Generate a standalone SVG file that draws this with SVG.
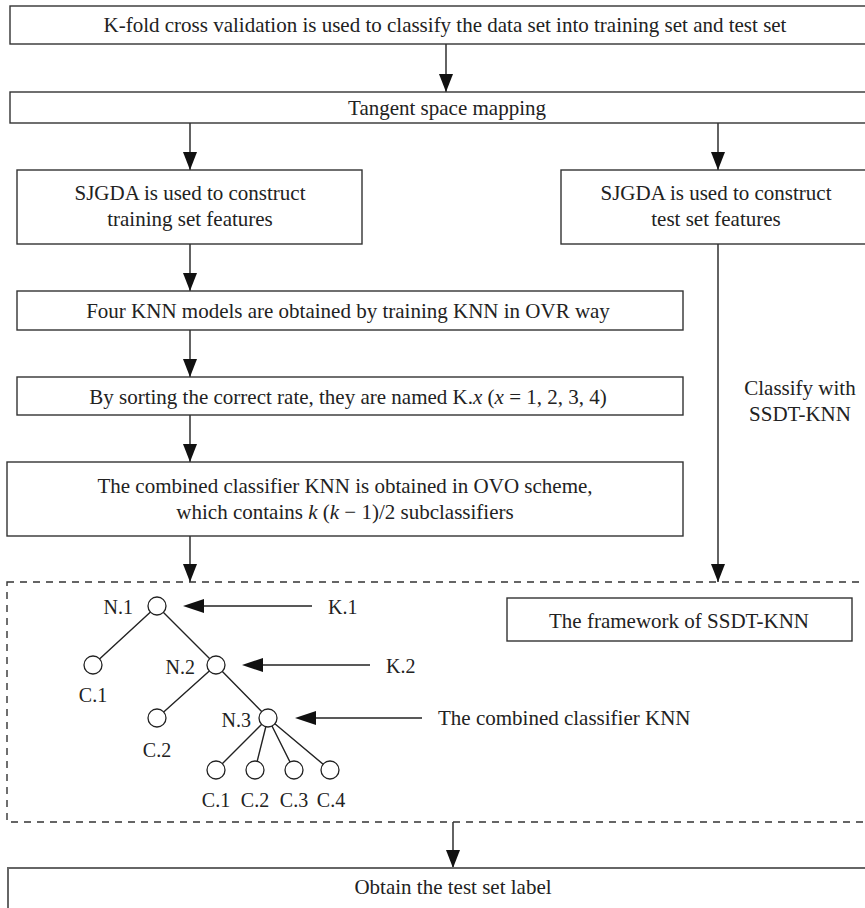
<svg xmlns="http://www.w3.org/2000/svg" width="865" height="908" viewBox="0 0 865 908">
<defs>
<style>
text{font-family:"Liberation Serif","Times New Roman",serif;font-size:21px;fill:#222;}
.t{font-size:20px}
.c{text-anchor:middle}
.r{text-anchor:end}
.box{fill:#fff;stroke:#333;stroke-width:1.4}
.ln{stroke:#222;stroke-width:1.4;fill:none}
.dash{fill:none;stroke:#333;stroke-width:1.4;stroke-dasharray:7 6}
.nd{fill:#fff;stroke:#222;stroke-width:1.3}
.ah{fill:#111}
</style>
</defs>
<g id="connectors">
<path class="ln" d="M446,44 V92"/>
<path class="ah" d="M439,74 L453,74 L446,92 Z"/>
<path class="ln" d="M190,123 V170"/>
<path class="ah" d="M183,152 L197,152 L190,170 Z"/>
<path class="ln" d="M718,123 V170"/>
<path class="ah" d="M711,152 L725,152 L718,170 Z"/>
<path class="ln" d="M190,244 V291"/>
<path class="ah" d="M183,273 L197,273 L190,291 Z"/>
<path class="ln" d="M190,330 V377"/>
<path class="ah" d="M183,359 L197,359 L190,377 Z"/>
<path class="ln" d="M190,415 V462"/>
<path class="ah" d="M183,444 L197,444 L190,462 Z"/>
<path class="ln" d="M190,536 V582"/>
<path class="ah" d="M183,564 L197,564 L190,582 Z"/>
<path class="ln" d="M718,244 V582"/>
<path class="ah" d="M711,564 L725,564 L718,582 Z"/>
<path class="ln" d="M453,822 V868"/>
<path class="ah" d="M446,850 L460,850 L453,868 Z"/>
<text x="800" y="395" class="c">Classify with</text>
<text x="800" y="421" class="c">SSDT-KNN</text>
</g>
<g id="n-kfold">
<rect class="box" x="10" y="6" width="880" height="38"/>
<text x="445" y="32" class="c">K-fold cross validation is used to classify the data set into training set and test set</text>
</g>
<g id="n-tangent">
<rect class="box" x="10" y="92" width="880" height="31"/>
<text x="447" y="115" class="c">Tangent space mapping</text>
</g>
<g id="n-train">
<rect class="box" x="17" y="170" width="345" height="74"/>
<text x="190" y="200" class="c">SJGDA is used to construct</text>
<text x="190" y="226" class="c">training set features</text>
</g>
<g id="n-test">
<rect class="box" x="561" y="170" width="319" height="74"/>
<text x="716" y="200" class="c">SJGDA is used to construct</text>
<text x="716" y="226" class="c">test set features</text>
</g>
<g id="n-four">
<rect class="box" x="17" y="291" width="666" height="39"/>
<text x="348" y="318" class="c">Four KNN models are obtained by training KNN in OVR way</text>
</g>
<g id="n-sort">
<rect class="box" x="17" y="377" width="666" height="38"/>
<text x="348" y="404" class="c">By sorting the correct rate, they are named K.<tspan font-style="italic">x</tspan> (<tspan font-style="italic">x</tspan> = 1, 2, 3, 4)</text>
</g>
<g id="n-combined">
<rect class="box" x="7" y="462" width="676" height="74"/>
<text x="345" y="493" class="c">The combined classifier KNN is obtained in OVO scheme,</text>
<text x="345" y="519" class="c">which contains <tspan font-style="italic">k</tspan> (<tspan font-style="italic">k</tspan> − 1)/2 subclassifiers</text>
</g>
<g id="n-framework">
<rect class="dash" x="7" y="582" width="880" height="240"/>
<rect class="box" x="507" y="598" width="345" height="43"/>
<text x="679" y="628" class="c">The framework of SSDT-KNN</text>
</g>
<g id="tree">
<path class="ln" d="M157,606 L93,665 M157,606 L216,665 M216,665 L157,718 M216,665 L268,718 M268,718 L216,770 M268,718 L255,770 M268,718 L294,770 M268,718 L330,770"/>
<circle class="nd" cx="157" cy="606" r="9"/>
<circle class="nd" cx="93" cy="665" r="9"/>
<circle class="nd" cx="216" cy="665" r="9"/>
<circle class="nd" cx="157" cy="718" r="9"/>
<circle class="nd" cx="268" cy="718" r="9"/>
<circle class="nd" cx="216" cy="770" r="9"/>
<circle class="nd" cx="255" cy="770" r="9"/>
<circle class="nd" cx="294" cy="770" r="9"/>
<circle class="nd" cx="330" cy="770" r="9"/>
<text x="133" y="614" class="r t">N.1</text>
<text x="195" y="674" class="r t">N.2</text>
<text x="251" y="727" class="r t">N.3</text>
<text x="93" y="702" class="c t">C.1</text>
<text x="157" y="757" class="c t">C.2</text>
<text x="216" y="807" class="c t">C.1</text>
<text x="255" y="807" class="c t">C.2</text>
<text x="294" y="807" class="c t">C.3</text>
<text x="331" y="807" class="c t">C.4</text>
<path class="ln" d="M312,606 H200"/>
<path class="ah" d="M183,606 L204,599 L204,613 Z"/>
<path class="ln" d="M370,665 H259"/>
<path class="ah" d="M242,665 L263,658 L263,672 Z"/>
<path class="ln" d="M422,718 H312"/>
<path class="ah" d="M295,718 L316,711 L316,725 Z"/>
<text x="328" y="614" class="t">K.1</text>
<text x="386" y="673" class="t">K.2</text>
<text x="438" y="725">The combined classifier KNN</text>
</g>
<g id="n-label">
<rect x="8" y="868" width="880" height="60" fill="#fff" stroke="#666" stroke-width="2"/>
<text x="453" y="894" class="c">Obtain the test set label</text>
</g>
</svg>
